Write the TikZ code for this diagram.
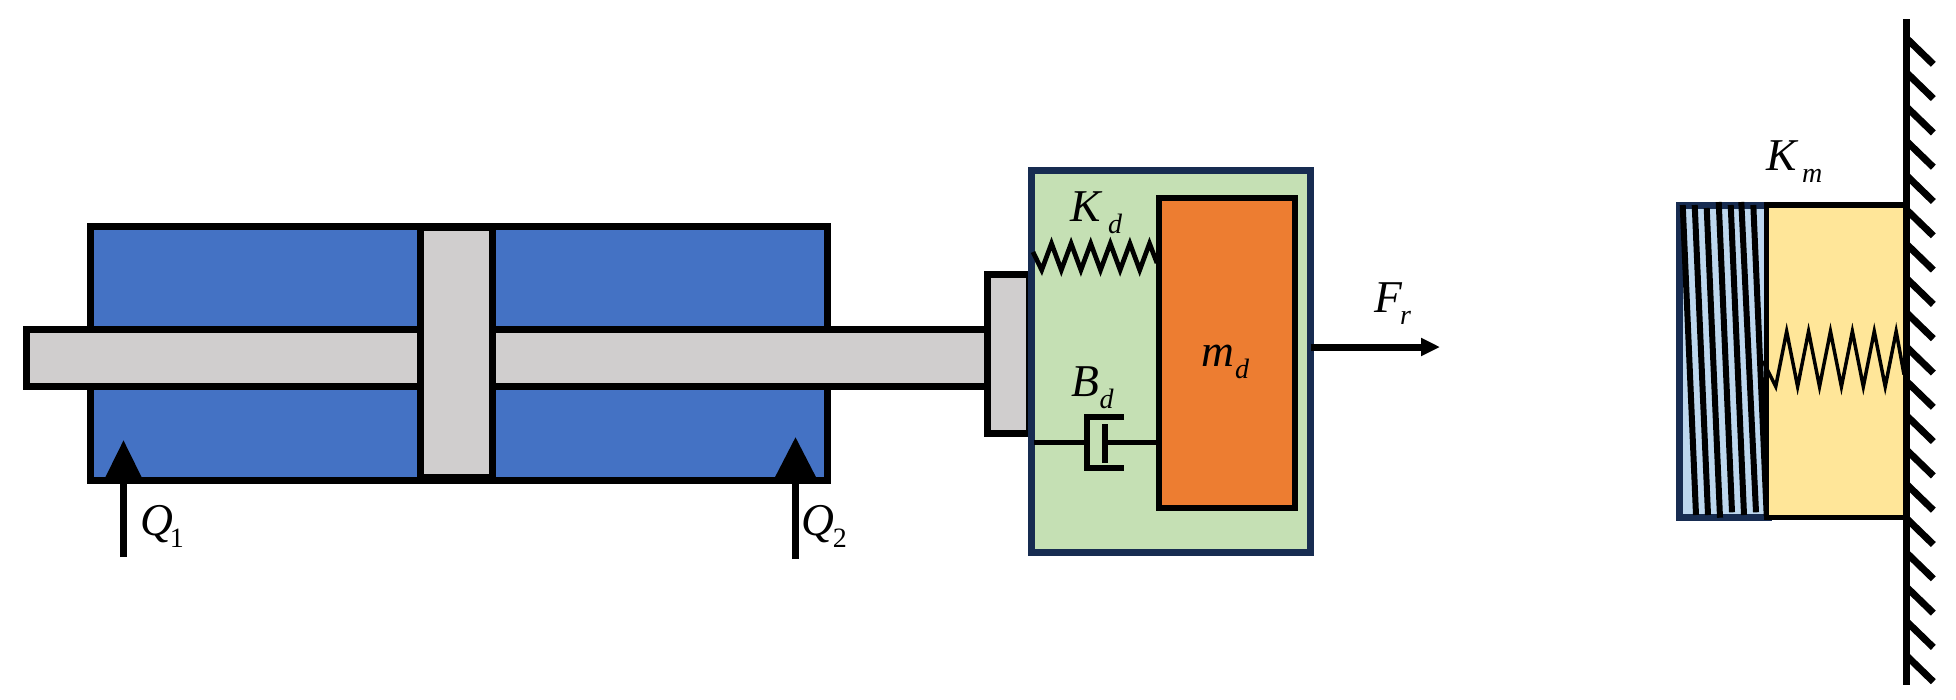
\documentclass[tikz,border=0pt]{standalone}
\usepackage{xcolor}
\usepackage{fontspec}
\setmainfont{Liberation Serif}
\usetikzlibrary{arrows.meta}
\definecolor{oilblue}{HTML}{4472C4}
\definecolor{steelgray}{HTML}{D0CECE}
\definecolor{dampgreen}{HTML}{C5E0B4}
\definecolor{massorange}{HTML}{ED7D31}
\definecolor{padyellow}{HTML}{FFE699}
\definecolor{coilblue}{HTML}{BDD7EE}
\definecolor{framenavy}{HTML}{172C51}
\tikzset{
	part/.style={draw=black, line width=7pt, inner sep=0pt, outer sep=0pt},
	frame/.style={part, draw=framenavy},
	wire/.style={draw=black, line width=4.7pt},
	cup/.style={draw=black, line width=6pt, line join=miter},
	hatch/.style={draw=black, line width=7pt},
	flow/.style={draw=black, line width=7pt},
	sym/.style={inner sep=0pt, outer sep=0pt, anchor=base west, font=\fontsize{45.5}{50}\selectfont}
}
\newcommand{\varsym}[3]{\textit{#1}\kern#3pt\raisebox{-12pt}{\fontsize{28}{28}\selectfont #2}}
\newcommand{\connectspring}[7]{
	\draw[line width=#1] (#2) \foreach \i in {0,...,5} {
		-- ({#4+\i*#5},#7) -- ({#4+#5/2+\i*#5},#6)
	} -- (#3);
}
\begin{document}
\begin{tikzpicture}[x=1pt,y=-1pt]
	\useasboundingbox (0,0) rectangle (1956,699);

	\node[part, fill=oilblue, minimum width=737pt, minimum height=254pt] (cyl-body) at (459,353.5) {};
	\node[part, fill=steelgray, minimum width=961pt, minimum height=57pt] (rod-main) at (507,358) {};
	\node[part, fill=steelgray, minimum width=72pt, minimum height=250pt] (rod-piston) at (456.5,352.5) {};
	\node[part, fill=steelgray, minimum width=42pt, minimum height=159pt] (rod-flange) at (1008.5,354) {};

	\coordinate (q1-in) at (123.5,557);
	\coordinate (q1-tip) at (123.5,440);
	\coordinate (q2-in) at (795.5,559);
	\coordinate (q2-tip) at (795.5,437);
	\draw[flow, -{Triangle[length=40pt,width=37pt]}] (q1-in) -- (q1-tip);
	\draw[flow, -{Triangle[length=43pt,width=42pt]}] (q2-in) -- (q2-tip);
	\node[sym] (q1-sym) at (140,535) {\varsym{Q}{1}{-3}};
	\node[sym] (q2-sym) at (801,535) {\varsym{Q}{2}{-1}};

	\node[frame, fill=dampgreen, minimum width=279pt, minimum height=382pt] (damp-box) at (1171,361.5) {};
	\node[part, fill=massorange, line width=6pt, minimum width=136pt, minimum height=310pt] (mass-d) at (1227,353) {};

	% spring
	\coordinate (kd-a) at (1033,252);
	\coordinate (kd-b) at (1157,263);
	\connectspring{4.7pt}{kd-a}{kd-b}{1041.7}{19.6}{243.5}{270}
	\node[sym] (kd-sym) at (1070.7,221.7) {\varsym{K}{\textit{d}}{5}};

	% damper
	\coordinate (bd-a) at (1034,442.3);
	\coordinate (bd-cup) at (1087,442.3);
	\coordinate (bd-rod) at (1105,442.3);
	\coordinate (bd-b) at (mass-d.west |- bd-rod);
	\draw[wire] (bd-a) -- (bd-cup);
	\draw[wire] (bd-rod) -- (bd-b);
	\draw[cup] (1124,417) -- (1087,417) -- (1087,468) -- (1124,468);
	\draw[cup] (1105,424) -- (1105,463);
	\node[sym] (bd-sym) at (1071.7,396) {\varsym{B}{\textit{d}}{0}};
	\node[sym] (md-sym) at (1201.7,366) {\varsym{m}{\textit{d}}{0.5}};

	\coordinate (fr-tip) at (1440,347);
	\draw[flow, -{Triangle[length=19pt,width=17pt]}] (fr-tip -| damp-box.east) -- (fr-tip);
	\node[sym] (fr-sym) at (1374,312.7) {\varsym{F}{\textit{r}}{-2}};

	\node[frame, fill=coilblue, minimum width=89pt, minimum height=312pt] (coil-box) at (1724,361.5) {};
	\foreach \xa/\ya/\xb/\yb in {1682.7/205/1696/515, 1694.7/205/1708/515, 1706.7/208/1720/517.7, 1718.7/202/1732/512.3, 1730.7/205/1744/515, 1741.3/202/1756/512.3, 1753.3/205/1766.7/516} {
		\draw[line width=6pt] (\xa,\ya) -- (\xb,\yb);
	}
	\node[part, fill=padyellow, line width=5.5pt, minimum width=140pt, minimum height=312.5pt] (pad-box) at (1836.5,361.25) {};

	\coordinate (km-a) at (1763,361);
	\coordinate (km-b) at (1904,374.5);
	\connectspring{3.5pt}{km-a}{km-b}{1775.7}{21.9}{331.5}{386.5}
	\node[sym] (km-sym) at (1766.7,170.7) {\varsym{K}{\textit{m}}{3}};

	\coordinate (wall-t) at (1906.5,19);
	\coordinate (wall-b) at (1906.5,685);
	\draw[hatch] (wall-t) -- (wall-b);
	\foreach \n in {0,...,18} {
		\draw[hatch] (1906.5,38.3+34.3*\n) -- (1933.3,64.3+34.3*\n);
	}
\end{tikzpicture}
\end{document}
